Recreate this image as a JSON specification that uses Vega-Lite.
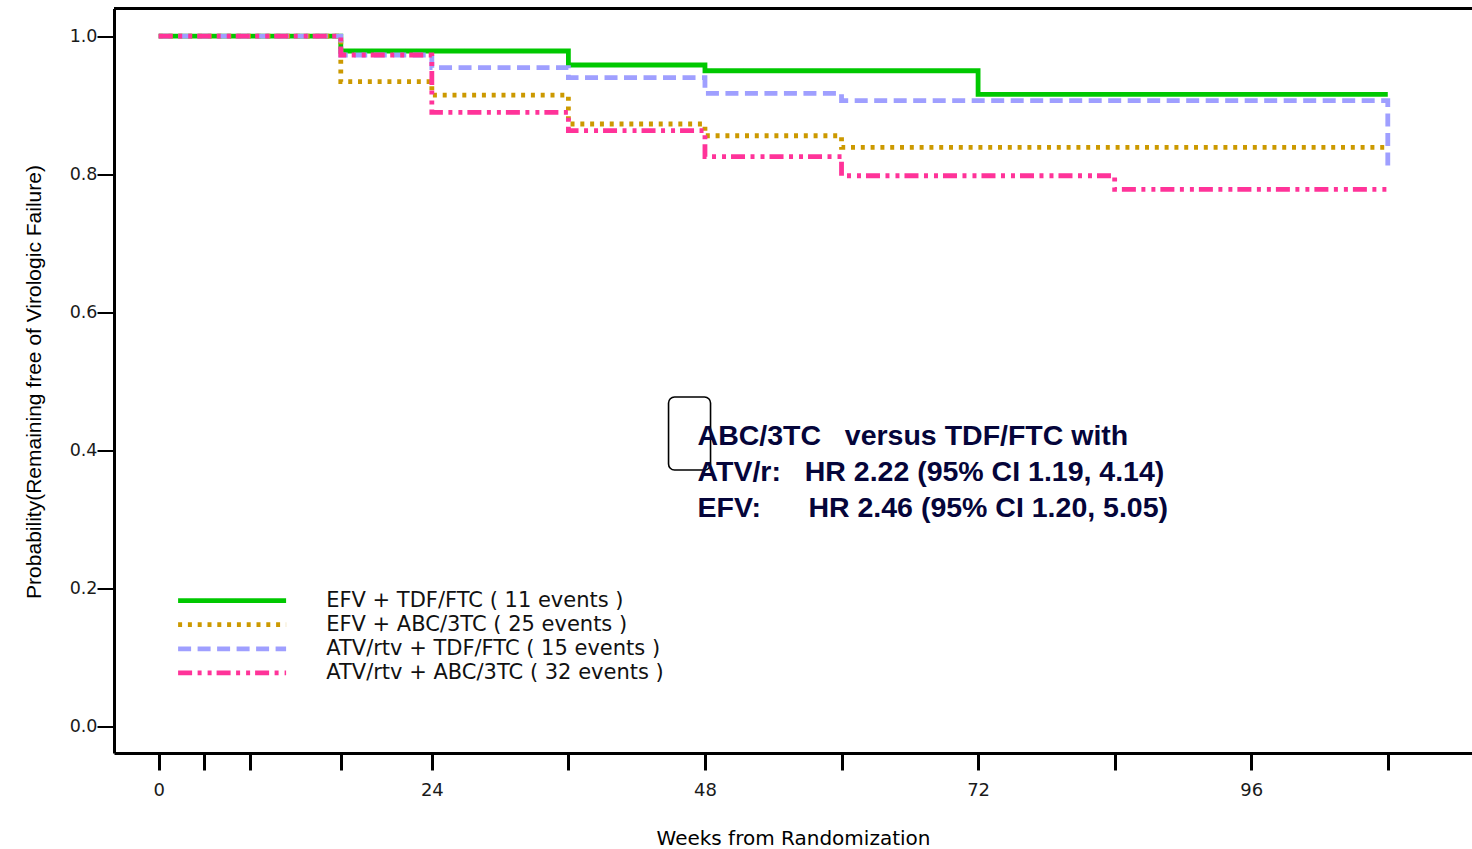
{
  "$schema": "https://vega.github.io/schema/vega-lite/v6.json",
  "width": 1358,
  "height": 744.5,
  "autosize": {"type": "none"},
  "padding": {"left": 114, "top": 8.5, "right": 0, "bottom": 96.5},
  "background": "white",
  "view": {"stroke": null},
  "config": {
    "font": "DejaVu Sans",
    "axis": {"grid": false, "domainColor": "#000000", "domainWidth": 3, "tickColor": "#000000", "labelColor": "#1a1a1a", "titleColor": "#000000"}
  },
  "datasets": {
    "km": [
      {"arm": "EFV + TDF/FTC ( 11 events )", "week": 0, "prob": 1.0},
      {"arm": "EFV + TDF/FTC ( 11 events )", "week": 16, "prob": 0.9783},
      {"arm": "EFV + TDF/FTC ( 11 events )", "week": 36, "prob": 0.958},
      {"arm": "EFV + TDF/FTC ( 11 events )", "week": 48, "prob": 0.9497},
      {"arm": "EFV + TDF/FTC ( 11 events )", "week": 72, "prob": 0.9155},
      {"arm": "EFV + TDF/FTC ( 11 events )", "week": 108, "prob": 0.9155},
      {"arm": "EFV + ABC/3TC ( 25 events )", "week": 0, "prob": 1.0},
      {"arm": "EFV + ABC/3TC ( 25 events )", "week": 16, "prob": 0.9338},
      {"arm": "EFV + ABC/3TC ( 25 events )", "week": 24, "prob": 0.9145},
      {"arm": "EFV + ABC/3TC ( 25 events )", "week": 36, "prob": 0.8725},
      {"arm": "EFV + ABC/3TC ( 25 events )", "week": 48, "prob": 0.8555},
      {"arm": "EFV + ABC/3TC ( 25 events )", "week": 60, "prob": 0.8387},
      {"arm": "EFV + ABC/3TC ( 25 events )", "week": 108, "prob": 0.8387},
      {"arm": "ATV/rtv + TDF/FTC ( 15 events )", "week": 0, "prob": 1.0},
      {"arm": "ATV/rtv + TDF/FTC ( 15 events )", "week": 16, "prob": 0.9725},
      {"arm": "ATV/rtv + TDF/FTC ( 15 events )", "week": 24, "prob": 0.9541},
      {"arm": "ATV/rtv + TDF/FTC ( 15 events )", "week": 36, "prob": 0.9396},
      {"arm": "ATV/rtv + TDF/FTC ( 15 events )", "week": 48, "prob": 0.917},
      {"arm": "ATV/rtv + TDF/FTC ( 15 events )", "week": 60, "prob": 0.9065},
      {"arm": "ATV/rtv + TDF/FTC ( 15 events )", "week": 108, "prob": 0.9065},
      {"arm": "ATV/rtv + TDF/FTC ( 15 events )", "week": 108, "prob": 0.8087},
      {"arm": "ATV/rtv + ABC/3TC ( 32 events )", "week": 0, "prob": 1.0},
      {"arm": "ATV/rtv + ABC/3TC ( 32 events )", "week": 16, "prob": 0.9725},
      {"arm": "ATV/rtv + ABC/3TC ( 32 events )", "week": 24, "prob": 0.8894},
      {"arm": "ATV/rtv + ABC/3TC ( 32 events )", "week": 36, "prob": 0.8628},
      {"arm": "ATV/rtv + ABC/3TC ( 32 events )", "week": 48, "prob": 0.8251},
      {"arm": "ATV/rtv + ABC/3TC ( 32 events )", "week": 60, "prob": 0.7975},
      {"arm": "ATV/rtv + ABC/3TC ( 32 events )", "week": 84, "prob": 0.7778},
      {"arm": "ATV/rtv + ABC/3TC ( 32 events )", "week": 108, "prob": 0.7778}
    ],
    "note": [
      {"note": "ABC/3TC\u00a0\u00a0 versus TDF/FTC with\nATV/r:\u00a0\u00a0 HR 2.22 (95% CI 1.19, 4.14)\nEFV:\u00a0\u00a0\u00a0\u00a0\u00a0 HR 2.46 (95% CI 1.20, 5.05)"}
    ]
  },
  "layer": [
    {
      "data": {"name": "km"},
      "mark": {"type": "line", "interpolate": "step-after", "strokeWidth": 4.8, "strokeCap": "butt"},
      "encoding": {
        "x": {
          "field": "week", "type": "quantitative",
          "scale": {"domain": [-3.928, 115.4], "nice": false, "zero": false},
          "axis": {
            "title": "Weeks from Randomization",
            "values": [0, 4, 8, 16, 24, 36, 48, 60, 72, 84, 96, 108],
            "labelExpr": "datum.value % 24 == 0 ? datum.label : ''",
            "labelOverlap": false, "labelFlush": false,
            "tickSize": 17, "tickWidth": 3, "labelPadding": 11,
            "labelFont": "DejaVu Sans", "labelFontSize": 18,
            "titleFont": "DejaVu Sans", "titleFontSize": 20, "titleFontWeight": "normal",
            "titleBaseline": "alphabetic", "titleY": 91
          }
        },
        "y": {
          "field": "prob", "type": "quantitative",
          "scale": {"domain": [-0.0391, 1.0399], "nice": false, "zero": false},
          "axis": {
            "title": "Probability(Remaining free of Virologic Failure)",
            "values": [0, 0.2, 0.4, 0.6, 0.8, 1.0],
            "format": ".1f",
            "tickSize": 17, "tickWidth": 2, "labelPadding": 0,
            "labelFont": "DejaVu Sans", "labelFontSize": 17.5,
            "titleFont": "Liberation Sans", "titleFontSize": 21, "titleFontWeight": "normal",
            "titleBaseline": "alphabetic", "titleX": -74, "titleY": 373
          }
        },
        "color": {
          "field": "arm", "type": "nominal",
          "scale": {
            "domain": ["EFV + TDF/FTC ( 11 events )", "EFV + ABC/3TC ( 25 events )", "ATV/rtv + TDF/FTC ( 15 events )", "ATV/rtv + ABC/3TC ( 32 events )"],
            "range": ["#00c800", "#cc9900", "#9f9fff", "#ff3399"]
          },
          "legend": {
            "orient": "none", "legendX": 107.6, "legendY": 581.6, "title": null,
            "symbolType": "M-10,0H10", "symbolSize": 116.64, "symbolStrokeWidth": 4.8,
            "labelFont": "DejaVu Sans", "labelFontSize": 21, "labelColor": "#111111",
            "labelOffset": 83.6, "rowPadding": 2.1, "padding": 0, "symbolOffset": 0, "labelLimit": 0
          }
        },
        "strokeDash": {
          "field": "arm", "type": "nominal",
          "scale": {
            "domain": ["EFV + TDF/FTC ( 11 events )", "EFV + ABC/3TC ( 25 events )", "ATV/rtv + TDF/FTC ( 15 events )", "ATV/rtv + ABC/3TC ( 32 events )"],
            "range": [[1, 0], [4, 5.8], [13, 6.5], [14, 5.5, 4, 6, 4, 5]]
          },
          "legend": {
            "orient": "none", "legendX": 107.6, "legendY": 581.6, "title": null,
            "symbolType": "M-10,0H10", "symbolSize": 116.64, "symbolStrokeWidth": 4.8,
            "labelFont": "DejaVu Sans", "labelFontSize": 21, "labelColor": "#111111",
            "labelOffset": 83.6, "rowPadding": 2.1, "padding": 0, "symbolOffset": 0, "labelLimit": 0
          }
        }
      }
    },
    {
      "data": {"values": [{}]},
      "mark": {"type": "rect", "filled": false, "color": "#000000", "strokeWidth": 1.6, "cornerRadius": 6},
      "encoding": {
        "x": {"datum": 44.8, "type": "quantitative"},
        "x2": {"datum": 48.49},
        "y": {"datum": 0.4768, "type": "quantitative"},
        "y2": {"datum": 0.371}
      }
    },
    {
      "data": {"name": "note"},
      "mark": {"type": "text", "align": "left", "baseline": "alphabetic", "font": "Liberation Sans", "fontWeight": "bold", "fontSize": 28.5, "lineHeight": 36, "lineBreak": "\n", "color": "#05053a"},
      "encoding": {
        "x": {"datum": 47.35, "type": "quantitative"},
        "y": {"datum": 0.4072, "type": "quantitative"},
        "text": {"field": "note", "type": "nominal"}
      }
    },
    {
      "data": {"values": [{}]},
      "mark": {"type": "rule", "color": "#000000", "strokeWidth": 3},
      "encoding": {
        "y": {"datum": 1.0399, "type": "quantitative"}
      }
    }
  ]
}
